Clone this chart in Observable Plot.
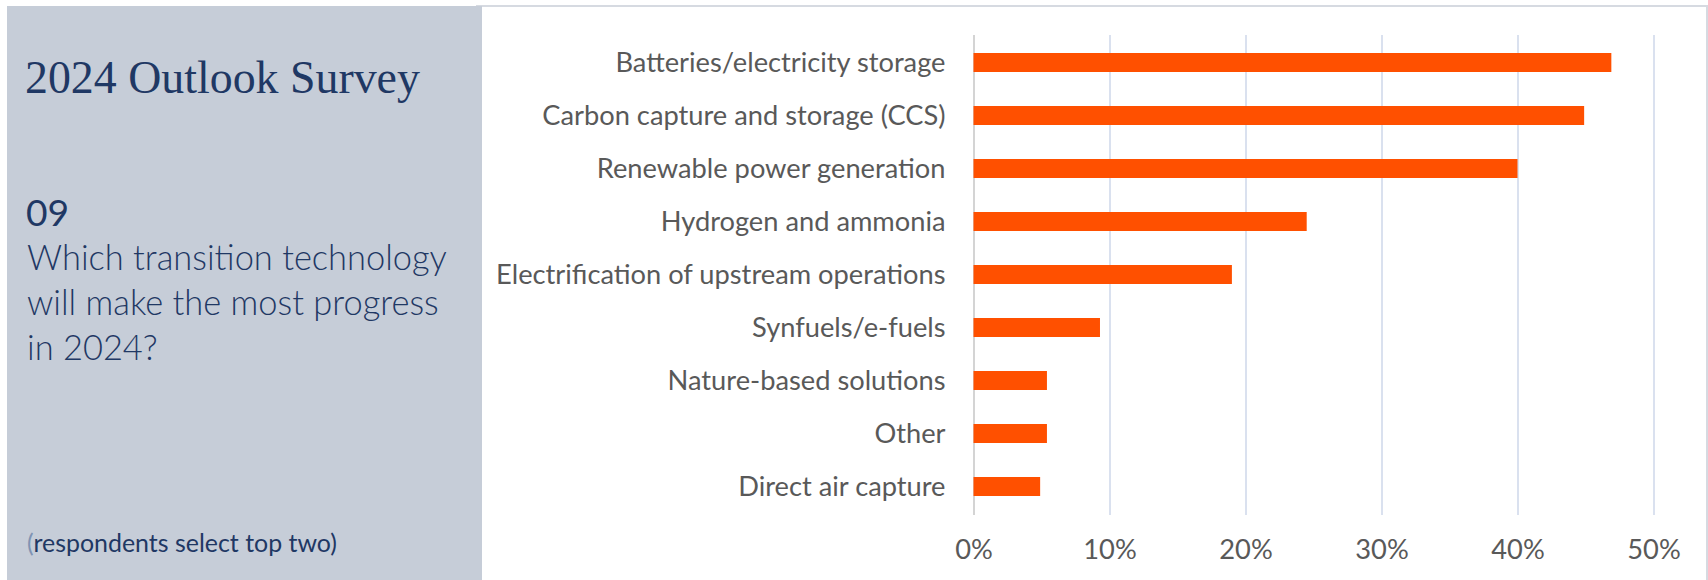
<!DOCTYPE html>
<html><head><meta charset="utf-8">
<script src="https://cdn.jsdelivr.net/npm/d3@7"></script>
<script src="https://cdn.jsdelivr.net/npm/@observablehq/plot@0.6"></script>
<style>
html,body{margin:0;padding:0;background:#fff;}
#wrap{position:relative;width:1708px;height:580px;overflow:hidden;}
#frame{position:absolute;left:476px;top:5px;width:1232px;height:600px;box-sizing:border-box;border:2px solid #D6DAE1;}
#panel{position:absolute;left:7px;top:6px;width:475px;height:574px;background:#C6CDD8;}
#panelText{position:absolute;left:0;top:0;}
#chart{position:absolute;left:482px;top:0;}
</style></head><body>
<div id="wrap"><div id="frame"></div><div id="panel"></div><svg id="panelText" width="482" height="580"></svg><div id="chart"></div></div>
<script>
const title = "2024 Outlook Survey";
const questionNumber = "09";
const questionLines = ["Which transition technology", "will make the most progress", "in 2024?"];
const note = "respondents select top two)";
const categories = [
  "Batteries/electricity storage",
  "Carbon capture and storage (CCS)",
  "Renewable power generation",
  "Hydrogen and ammonia",
  "Electrification of upstream operations",
  "Synfuels/e-fuels",
  "Nature-based solutions",
  "Other",
  "Direct air capture"
];
const values = [0.469, 0.449, 0.400, 0.245, 0.190, 0.093, 0.054, 0.054, 0.049];
const xTicks = [0, 0.1, 0.2, 0.3, 0.4, 0.5];

const data = categories.map((c, i) => ({category: c, value: values[i]}));

const ctx = document.createElement("canvas").getContext("2d");
function fit(text, family, target, weight = "normal") {
  ctx.font = `${weight} 100px ${family}`;
  return 100 * target / ctx.measureText(text).width;
}
const SANS = "Lato";
const SERIF = "'Liberation Serif'";
const navy = "#1F3864";
const titleSize = fit(title, SERIF, 395);
const qSize = fit(questionLines[0], SANS, 420, 300);
const numSize = qSize * 1.08;
const noteSize = fit("(" + note, SANS, 310);
const catSize = fit("Electrification of upstream operations", SANS, 450);

// Left panel text
const svg = d3.select("#panelText");
svg.append("text").attr("x", 25).attr("y", 93).attr("font-family", SERIF)
  .attr("font-size", titleSize).attr("fill", navy).text(title);
svg.append("text").attr("x", 26).attr("y", 226).attr("font-family", SANS)
  .attr("font-size", numSize).attr("fill", navy).text(questionNumber);
questionLines.forEach((l, i) => {
  svg.append("text").attr("x", 27).attr("y", 270 + 45 * i).attr("font-family", SANS)
    .attr("font-weight", 300).attr("font-size", qSize).attr("fill", navy).text(l);
});
const nt = svg.append("text").attr("x", 27).attr("y", 552).attr("font-family", SANS)
  .attr("font-size", noteSize).attr("fill", navy);
nt.append("tspan").attr("fill", "#7F93B3").text("(");
nt.append("tspan").text(note);

// Chart
const W = 1224, H = 580;
const x0 = 973.5 - 482, x1 = 1653.5 - 482;
const chart = Plot.plot({
  width: W, height: H,
  marginLeft: x0, marginRight: W - x1,
  marginTop: 35, marginBottom: H - 515,
  style: {fontFamily: SANS, background: "transparent", color: "#595959"},
  x: {domain: [0, 0.5]},
  y: {domain: categories, paddingInner: 0.635, paddingOuter: 0.31},
  marks: [
    Plot.ruleX(xTicks.slice(1), {stroke: "#DAE1EF", strokeWidth: 2}),
    Plot.ruleX([0], {stroke: "#D4D4D4", strokeWidth: 2}),
    Plot.barX(data, {x: "value", y: "category", fill: "#FF5000"}),
    Plot.axisX({ticks: xTicks, tickFormat: d3.format(".0%"), tickSize: 0,
      tickPadding: 558 - 515 - 0.71 * catSize, fontSize: catSize, fill: "#595959", label: null}),
    Plot.axisY({tickSize: 0, tickPadding: x0 - (945 - 482), fontSize: catSize, fill: "#595959", label: null})
  ]
});
document.getElementById("chart").appendChild(chart);
</script>
</body></html>
